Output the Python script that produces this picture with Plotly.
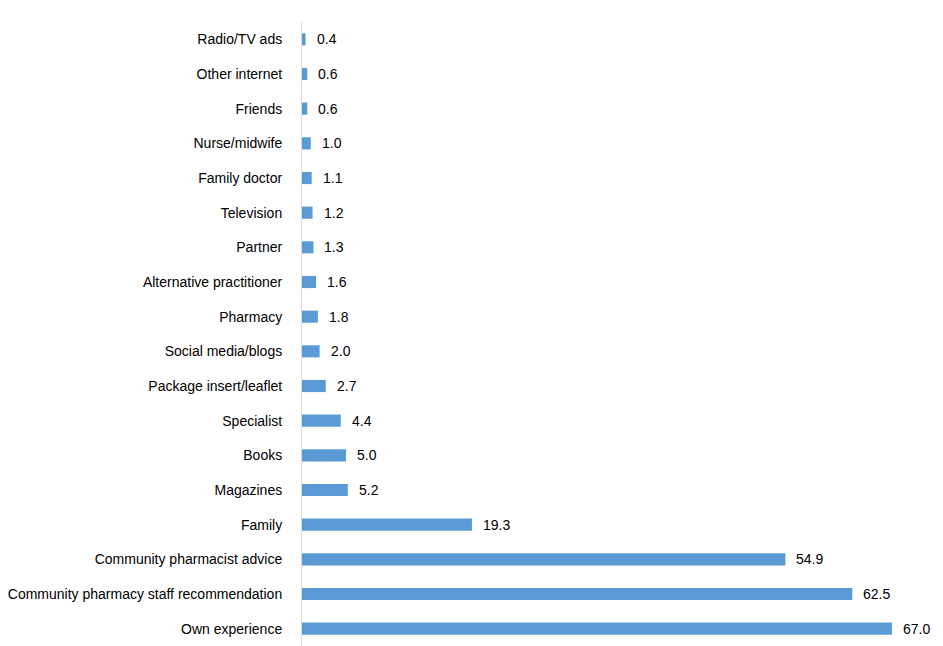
import plotly.graph_objects as go

# Sources of information, listed top to bottom, with the share (%) for each
categories = [
    "Radio/TV ads",
    "Other internet",
    "Friends",
    "Nurse/midwife",
    "Family doctor",
    "Television",
    "Partner",
    "Alternative practitioner",
    "Pharmacy",
    "Social media/blogs",
    "Package insert/leaflet",
    "Specialist",
    "Books",
    "Magazines",
    "Family",
    "Community pharmacist advice",
    "Community pharmacy staff recommendation",
    "Own experience",
]
values = [0.4, 0.6, 0.6, 1.0, 1.1, 1.2, 1.3, 1.6, 1.8, 2.0,
          2.7, 4.4, 5.0, 5.2, 19.3, 54.9, 62.5, 67.0]

BAR_COLOR = "#5b9bd5"
FONT = "Liberation Sans, Arial, sans-serif"

fig = go.Figure(
    go.Bar(
        x=values,
        y=categories,
        orientation="h",
        marker=dict(color=BAR_COLOR, line=dict(width=0)),
        hoverinfo="x+y",
    )
)

# value labels placed just past the end of each bar
for cat, val in zip(categories, values):
    fig.add_annotation(
        x=val, y=cat, text=f"{val:.1f}",
        xanchor="left", yanchor="middle", xshift=9,
        showarrow=False,
        font=dict(family=FONT, size=14, color="#000000"),
    )

fig.update_layout(
    width=943, height=646,
    margin=dict(l=302, r=0, t=22, b=0),
    paper_bgcolor="white",
    plot_bgcolor="white",
    bargap=0.65,
    showlegend=False,
    font=dict(family=FONT, size=14, color="#000000"),
    xaxis=dict(
        range=[0, 72.8],
        visible=False,
        showgrid=False,
        zeroline=False,
    ),
    yaxis=dict(
        autorange="reversed",
        showline=True,
        linecolor="#d9d9d9",
        linewidth=1,
        showgrid=False,
        zeroline=False,
        ticks="",
        ticklabelstandoff=16,
        tickfont=dict(family=FONT, size=14, color="#000000"),
    ),
)

fig.write_html("out.html")
